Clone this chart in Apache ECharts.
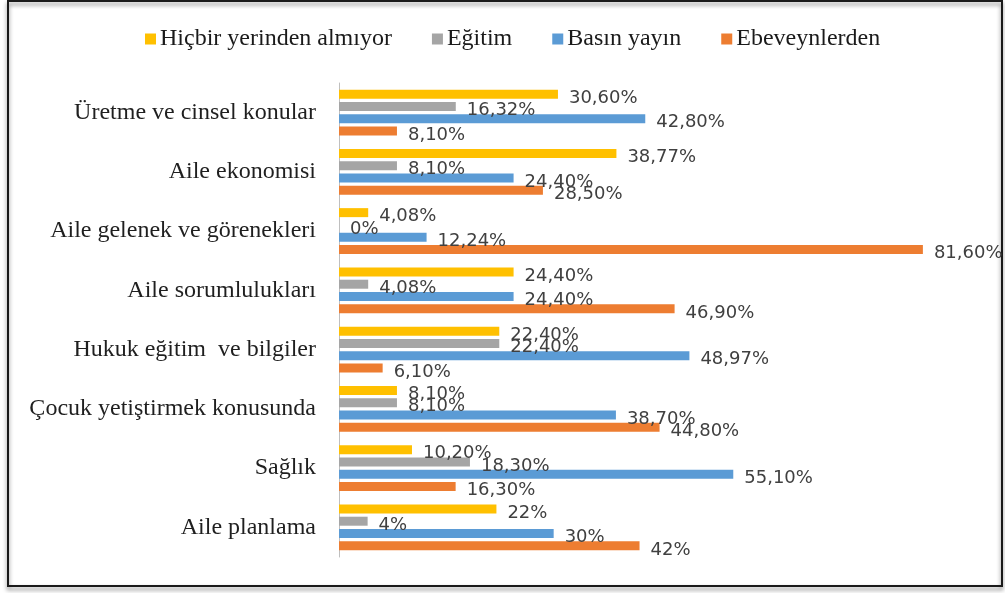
<!DOCTYPE html>
<html>
<head>
<meta charset="utf-8">
<script src="https://cdn.jsdelivr.net/npm/echarts@6/dist/echarts.min.js"></script>
<style>
  html, body { margin: 0; padding: 0; background: #fff; }
  #chart { width: 1005px; height: 593px; }
</style>
</head>
<body>
<div id="chart"></div>
<script>
// kategoriler (yukaridan asagiya)
const categories = [
  'Üretme ve cinsel konular',
  'Aile ekonomisi',
  'Aile gelenek ve görenekleri',
  'Aile sorumlulukları',
  'Hukuk eğitim  ve bilgiler',
  'Çocuk yetiştirmek konusunda',
  'Sağlık',
  'Aile planlama'
];

const seriesNames = ['Hiçbir yerinden almıyor', 'Eğitim', 'Basın yayın', 'Ebeveynlerden'];

const hicbir = [30.60, 38.77, 4.08, 24.40, 22.40, 8.10, 10.20, 22];
const egitim = [16.32, 8.10, 0, 4.08, 22.40, 8.10, 18.30, 4];
const basin = [42.80, 24.40, 12.24, 24.40, 48.97, 38.70, 55.10, 30];
const ebeveyn = [8.10, 28.50, 81.60, 46.90, 6.10, 44.80, 16.30, 42];

const colors = ['#FFC000', '#A5A5A5', '#5B9BD5', '#ED7D31'];

const fmt = v => (Number.isInteger(v) ? String(v) : v.toFixed(2).replace('.', ',')) + '%';

const chart = echarts.init(document.getElementById('chart'));

const makeSeries = (name, data, i) => ({
  name: name,
  type: 'bar',
  data: data,
  barWidth: 9,
  barGap: '37%',
  itemStyle: { color: colors[i] },
  label: {
    show: true,
    position: 'right',
    distance: 11,
    offset: [0, 4],
    formatter: p => fmt(p.value),
    fontFamily: 'DejaVu Sans',
    fontSize: 18,
    color: '#404040'
  }
});

chart.setOption({
  backgroundColor: '#fff',
  animation: false,
  color: colors,
  graphic: [{
    type: 'rect',
    shape: { x: 8, y: 1, width: 994, height: 585 },
    style: {
      fill: 'none',
      stroke: '#1a1a1a',
      lineWidth: 2,
      shadowBlur: 4,
      shadowOffsetY: 3,
      shadowColor: 'rgba(0,0,0,0.5)'
    },
    z: -1
  }],
  legend: {
    left: 140,
    top: 22,
    itemWidth: 11,
    itemHeight: 11,
    itemGap: 40,
    icon: 'rect',
    textStyle: {
      fontFamily: 'Liberation Serif',
      fontSize: 24,
      color: '#1a1a1a',
      padding: [0, 0, 0, -1]
    },
    data: seriesNames
  },
  grid: { left: 339, right: 22, top: 83, bottom: 36, containLabel: false },
  xAxis: {
    type: 'value',
    min: 0,
    max: 90,
    show: false,
    splitLine: { show: false }
  },
  yAxis: {
    type: 'category',
    inverse: true,
    data: categories,
    axisTick: { show: false },
    axisLine: { show: true, lineStyle: { color: '#bfbfbf', width: 1 } },
    axisLabel: {
      margin: 23,
      fontFamily: 'Liberation Serif',
      fontSize: 24,
      color: '#1f1f1f'
    }
  },
  series: [
    makeSeries(seriesNames[0], hicbir, 0),
    makeSeries(seriesNames[1], egitim, 1),
    makeSeries(seriesNames[2], basin, 2),
    makeSeries(seriesNames[3], ebeveyn, 3)
  ]
});
</script>
</body>
</html>
